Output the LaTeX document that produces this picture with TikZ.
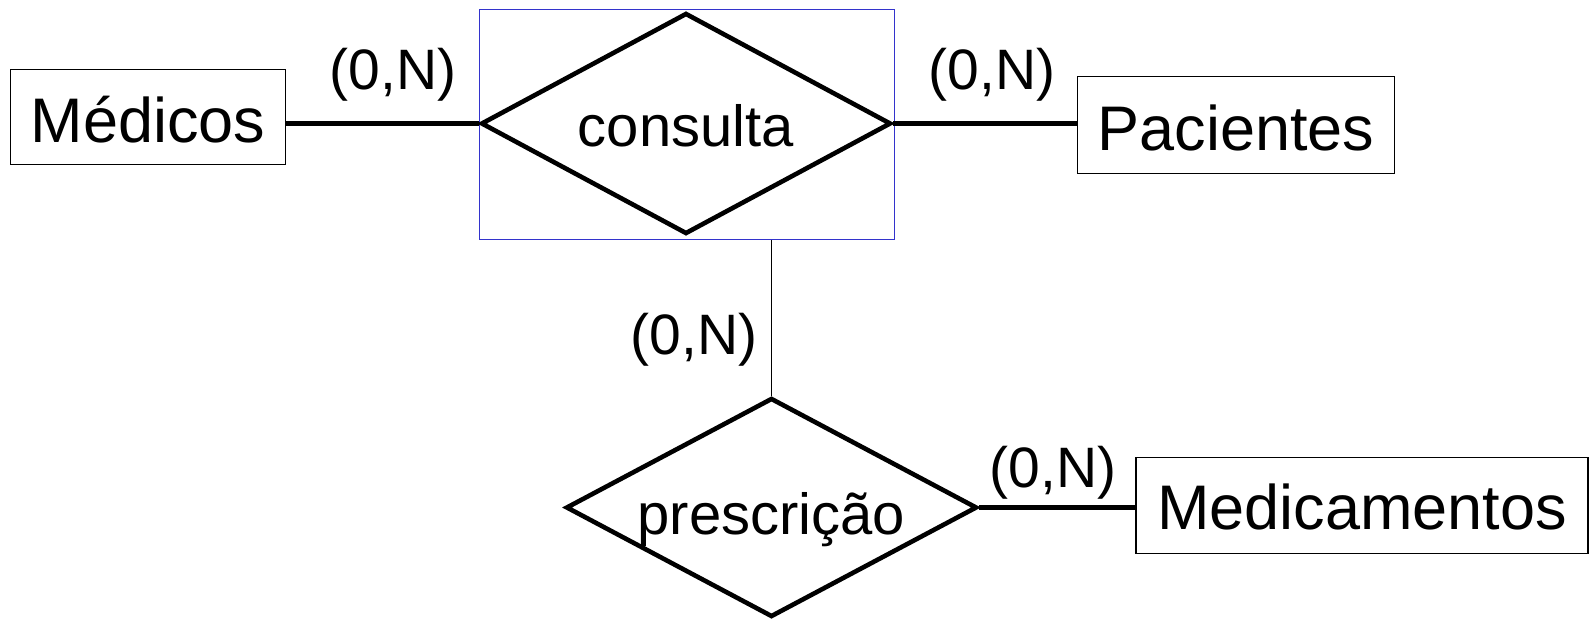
\documentclass[tikz,border=0pt]{standalone}
\usepackage{fontspec}
\setmainfont{Liberation Sans}
\usetikzlibrary{shapes.geometric}
\definecolor{aggblue}{RGB}{51,51,204}
\newcommand{\lowtext}[2]{\raisebox{-#1pt}[\height][\depth]{#2}}
\begin{document}
\begin{tikzpicture}[x=1pt,y=-1pt,
  entity/.style={draw,line width=1.8pt,rectangle,inner sep=0pt,font=\fontsize{63}{70}\selectfont},
  rel/.style={draw,diamond,aspect=1.84,line width=4.6pt,inner sep=0pt,font=\fontsize{58}{64}\selectfont},
  card/.style={inner sep=0pt,font=\fontsize{57}{64}\selectfont},
  conn/.style={line width=5pt},
  thinconn/.style={line width=1.8pt},
  aggbox/.style={draw=aggblue,line width=1.6pt,rectangle,inner sep=0pt}]
\useasboundingbox (0,0) rectangle (1591,621);

\node[aggbox,minimum width=415,minimum height=230] (agg) at (687,124.5) {};
\node[rel,minimum width=410,minimum height=221] (cons) at (686,123.5) {\lowtext{2}{consulta}};
\node[rel,minimum width=411,minimum height=219] (pres) at (771.5,507.5) {\lowtext{12}{prescrição}};

\node[entity,minimum width=275,minimum height=95] (med) at (148,117) {\lowtext{3}{Médicos}};
\node[entity,minimum width=317,minimum height=97] (pac) at (1236,125) {\lowtext{3}{Pacientes}};
\node[entity,minimum width=452,minimum height=96] (medic) at (1362,505.5) {\lowtext{1}{Medicamentos}};

\draw[conn] (cons.west) -- (cons.west -| med.east);
\draw[conn] (cons.east) -- (cons.east -| pac.west);
\draw[conn] (pres.east) -- (pres.east -| medic.west);
\draw[thinconn] (pres.north) -- (pres.north |- agg.south);

\node[card] (c1) at (393,75) {(0,N)};
\node[card] (c2) at (992,75) {(0,N)};
\node[card] (c3) at (694,340) {(0,N)};
\node[card] (c4) at (1053,473) {(0,N)};
\end{tikzpicture}
\end{document}
